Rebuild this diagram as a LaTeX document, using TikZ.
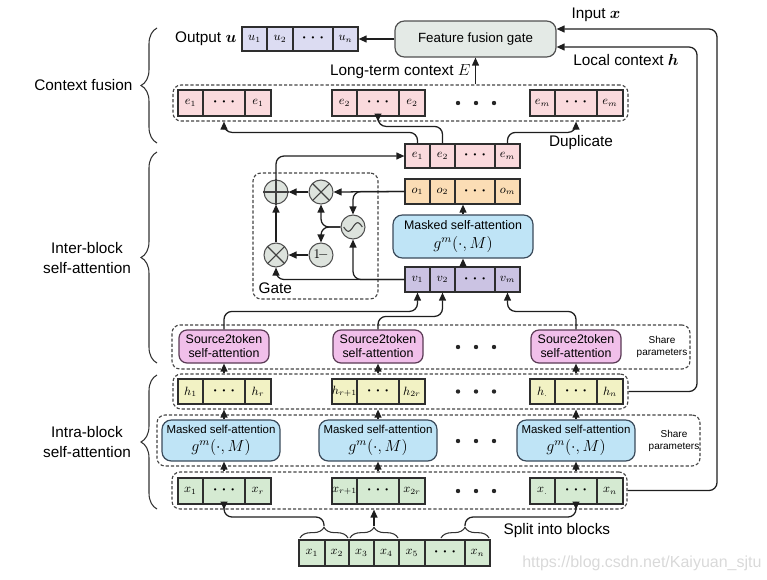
\documentclass[tikz,border=0pt]{standalone}
\usepackage{amsmath}
\usepackage{bm}
\usepackage{fontspec}
\setmainfont{Liberation Sans}
\usetikzlibrary{arrows.meta,decorations.pathreplacing,calc}

\definecolor{ucol}{HTML}{DCDCF2}
\definecolor{ecol}{HTML}{FADADD}
\definecolor{ocol}{HTML}{FBDDB5}
\definecolor{vcol}{HTML}{CBC3E3}
\definecolor{hcol}{HTML}{F2F2C4}
\definecolor{xcol}{HTML}{D5EAD2}
\definecolor{msafill}{HTML}{BFE4F6}
\definecolor{msabd}{HTML}{3A4A5A}
\definecolor{s2tfill}{HTML}{F1BFEA}
\definecolor{s2tbd}{HTML}{5A3A55}
\definecolor{gatefill}{HTML}{E4EAE6}
\definecolor{gatebd}{HTML}{505050}
\definecolor{circfill}{HTML}{DDE3DD}
\definecolor{circbd}{HTML}{505050}
\definecolor{cellbd}{HTML}{2E2E2E}
\definecolor{dashbd}{HTML}{444444}
\definecolor{arrc}{HTML}{1E1E1E}
\definecolor{wmark}{HTML}{D9D9D9}

\newcommand\RN[7]{\node[#6, minimum width={((#3)-(#2))*0.75pt}, minimum height={((#5)-(#4))*0.75pt}] (#1) at ({((#2)+(#3))/2},{((#4)+(#5))/2}) {#7};}
\newcommand\Grp[8]{%
 \RN{#11}{#2}{#2+25}{#3}{#4}{cellbox,fill=#5}{#6}%
 \RN{#12}{#2+25}{#2+67}{#3}{#4}{cellbox,fill=#5}{#7}%
 \RN{#13}{#2+67}{#2+93}{#3}{#4}{cellbox,fill=#5}{#8}}
\newcommand\dd{{\fontsize{6}{6}\selectfont\textbullet\hspace{4.5pt}\textbullet\hspace{4.5pt}\textbullet}}

\begin{document}
\begin{tikzpicture}[x=0.75pt,y=-0.75pt,
  cellbox/.style={draw=cellbd, line width=0.9pt, inner sep=0pt, font=\fontsize{9}{10}\selectfont},
  dashbox/.style={draw=dashbd, line width=0.85pt, dash pattern=on 2.4pt off 1.5pt, rounded corners=6pt, inner sep=0pt},
  arr/.style={draw=arrc, line width=0.95pt, -{Triangle[length=6pt,width=5.2pt]}},
  conn/.style={arr, rounded corners=6pt},
  lbl/.style={font=\fontsize{11.5}{15}\selectfont, inner sep=1pt},
  msa/.style={draw=msabd, fill=msafill, line width=0.9pt, rounded corners=7pt, inner sep=0pt, align=center, font=\fontsize{9.3}{11}\selectfont},
  msasm/.style={msa, font=\fontsize{8.6}{10.5}\selectfont},
  s2tbox/.style={draw=s2tbd, fill=s2tfill, line width=0.9pt, rounded corners=6pt, inner sep=0pt, align=center, font=\fontsize{9.3}{10.5}\selectfont},
  gatebox/.style={draw=gatebd, fill=gatefill, line width=0.9pt, rounded corners=7pt, inner sep=0pt, font=\fontsize{10}{12}\selectfont},
  circ/.style={circle, draw=circbd, fill=circfill, line width=0.8pt, minimum size=24*0.75pt, inner sep=0pt},
  glyph/.style={draw=black!75, line width=0.8pt},
  gdot/.style={circle, fill=black!85, minimum size=3.3pt, inner sep=0pt},
  bigbrace/.style={draw=black!80, line width=0.8pt, decorate, decoration={brace, amplitude=12pt}},
  smallbrace/.style={draw=black!80, line width=0.8pt, decorate, decoration={brace, amplitude=8pt}},
  sharelbl/.style={font=\fontsize{7.5}{9}\selectfont, align=center, inner sep=0pt}]
\useasboundingbox (0,0) rectangle (767,579);

% ---------- left braces and labels
\draw[bigbrace] (157,143) -- (157,28);
\node[lbl, anchor=east] (cflbl) at (134,85) {Context fusion};
\draw[bigbrace] (157,363) -- (157,152);
\node[lbl, align=center] (interlbl) at (87,258) {Inter-block\\self-attention};
\draw[bigbrace] (157,509) -- (157,375);
\node[lbl, align=center] (intralbl) at (87,442) {Intra-block\\self-attention};

% ---------- top
\node[lbl, anchor=east] (outlbl) at (238,39) {Output $\bm{u}$};
\RN{u1}{242}{267}{27}{51}{cellbox,fill=ucol}{$u_1$}
\RN{u2}{267}{293}{27}{51}{cellbox,fill=ucol}{$u_2$}
\RN{ud}{293}{333}{27}{51}{cellbox,fill=ucol}{\dd}
\RN{un}{333}{358}{27}{51}{cellbox,fill=ucol}{$u_n$}
\RN{ffg}{395}{556}{21}{57}{gatebox}{Feature fusion gate}
\draw[arr] (ffg.west) -- (un.east);
\node[lbl] (inlbl) at (596,15) {Input $\bm{x}$};
\node[lbl] (lclbl) at (626,60) {Local context $\bm{h}$};
\node[lbl, anchor=east] (ltlbl) at (472,72) {Long-term context $E$};

% ---------- context fusion row
\RN{edash}{173}{628}{85}{121}{dashbox}{}
\Grp{eA}{178}{90}{116}{ecol}{$e_1$}{\dd}{$e_1$}
\Grp{eB}{332}{90}{116}{ecol}{$e_2$}{\dd}{$e_2$}
\Grp{eC}{530}{90}{116}{ecol}{$e_m$}{\dd}{$e_m$}
\node[gdot] (edt1) at (458,103) {};
\node[gdot] (edt2) at (476,103) {};
\node[gdot] (edt3) at (494,103) {};
\draw[arr] (ffg.south |- edash.north) -- (ffg.south);
\node[lbl] (duplbl) at (581,143) {Duplicate};

% ---------- inter-block column
\RN{es1}{405}{430}{144}{168}{cellbox,fill=ecol}{$e_1$}
\RN{es2}{430}{455}{144}{168}{cellbox,fill=ecol}{$e_2$}
\RN{esd}{455}{495}{144}{168}{cellbox,fill=ecol}{\dd}
\RN{esm}{495}{520}{144}{168}{cellbox,fill=ecol}{$e_m$}
\RN{o1}{405}{430}{179}{204}{cellbox,fill=ocol}{$o_1$}
\RN{o2}{430}{455}{179}{204}{cellbox,fill=ocol}{$o_2$}
\RN{od}{455}{495}{179}{204}{cellbox,fill=ocol}{\dd}
\RN{om}{495}{520}{179}{204}{cellbox,fill=ocol}{$o_m$}
\RN{msai}{393}{533}{215}{258}{msa}{Masked self-attention\\[3pt]{\fontsize{12}{12}\selectfont$g^m(\cdot,M)$}}
\RN{v1}{405}{430}{267}{292}{cellbox,fill=vcol}{$v_1$}
\RN{v2}{430}{455}{267}{292}{cellbox,fill=vcol}{$v_2$}
\RN{vd}{455}{495}{267}{292}{cellbox,fill=vcol}{\dd}
\RN{vm}{495}{520}{267}{292}{cellbox,fill=vcol}{$v_m$}
\draw[arr] (msai.north) -- (msai.north |- od.south);
\draw[arr] (msai.south |- vd.north) -- (msai.south);

\draw[conn] (es1.north) -- ++(0,-11) -| (eA2 |- edash.south);
\draw[conn] (es2.north) -- ++(0,-17) -| (eB2 |- edash.south);
\draw[conn] (esm.north) -- ++(0,-11) -| (eC2 |- edash.south);

% ---------- gate
\RN{gatedash}{253}{378}{173}{299}{dashbox}{}
\node[lbl, anchor=west] (gatelbl) at (257,288) {Gate};
\node[circ] (P) at (276,192) {};
\node[circ] (T1) at (321,192) {};
\node[circ] (S) at (353,227) {};
\node[circ] (T2) at (276,255) {};
\node[circ, font=\fontsize{10}{10}\selectfont] (OM) at (321,255) {$1\!-$};
\draw[glyph] (P.north) -- (P.south) (P.west) -- (P.east);
\draw[glyph] ([shift={(45:9pt)}]T1.center) -- ([shift={(225:9pt)}]T1.center)
             ([shift={(135:9pt)}]T1.center) -- ([shift={(315:9pt)}]T1.center);
\draw[glyph] ([shift={(45:9pt)}]T2.center) -- ([shift={(225:9pt)}]T2.center)
             ([shift={(135:9pt)}]T2.center) -- ([shift={(315:9pt)}]T2.center);
\begin{scope}[shift={(S.center)}, x=1pt, y=1pt]
  \draw[glyph, domain=-7:7, samples=40, smooth] plot (\x, {3.2*sin(\x*360/14)});
\end{scope}

\draw[conn] (P.north) |- (es1.west);
\draw[arr] (o1.west) -- (T1.east);
\draw[conn] (o1.west) -| (S.north);
\draw[arr] (T1.west) -- (P.east);
\draw[conn] (S.west) -| (T1.south);
\draw[conn] (S.west) -| (OM.north);
\draw[arr] (OM.west) -- (T2.east);
\draw[arr] (T2.north) -- (P.south);
\draw[conn] (v1.west) -| (T2.south);
\draw[conn] (v1.west) -| (S.south);

% ---------- source2token row
\RN{s2tdash}{172}{690}{325}{369}{dashbox}{}
\RN{s2t1}{179}{269}{330}{363}{s2tbox}{Source2token\\self-attention}
\RN{s2t2}{333}{423}{330}{363}{s2tbox}{Source2token\\self-attention}
\RN{s2t3}{531}{621}{330}{363}{s2tbox}{Source2token\\self-attention}
\node[gdot] (sdt1) at (458,347) {};
\node[gdot] (sdt2) at (476,347) {};
\node[gdot] (sdt3) at (494,347) {};
\node[sharelbl] (sp1) at (662,347) {Share\\parameters};
\draw[conn] (s2t1.north) -- ++(0,-18) -| (v1.south);
\draw[conn] (s2t2.north) -- ++(0,-13) -| (v2.south);
\draw[conn] (s2t3.north) -- ++(0,-18) -| (vm.south);

% ---------- h row
\RN{hdash}{173}{628}{374}{409}{dashbox}{}
\Grp{hA}{178}{379}{404}{hcol}{$h_1$}{\dd}{$h_r$}
\Grp{hB}{332}{379}{404}{hcol}{$h_{r+1}$}{\dd}{$h_{2r}$}
\Grp{hC}{530}{379}{404}{hcol}{$h_{.}$}{\dd}{$h_n$}
\node[gdot] (hdt1) at (458,391.5) {};
\node[gdot] (hdt2) at (476,391.5) {};
\node[gdot] (hdt3) at (494,391.5) {};

% ---------- masked self-attention (intra) row
\RN{mdash}{157}{700}{415}{466}{dashbox}{}
\RN{m1}{162}{280}{420}{461}{msasm}{Masked self-attention\\[3pt]{\fontsize{11.5}{12}\selectfont$g^m(\cdot,M)$}}
\RN{m2}{319}{437}{420}{461}{msasm}{Masked self-attention\\[3pt]{\fontsize{11.5}{12}\selectfont$g^m(\cdot,M)$}}
\RN{m3}{517}{635}{420}{461}{msasm}{Masked self-attention\\[3pt]{\fontsize{11.5}{12}\selectfont$g^m(\cdot,M)$}}
\node[gdot] (mdt1) at (458,441) {};
\node[gdot] (mdt2) at (476,441) {};
\node[gdot] (mdt3) at (494,441) {};
\node[sharelbl] (sp2) at (674,441) {Share\\parameters};

% ---------- x row
\RN{xdash}{172}{627}{472}{509}{dashbox}{}
\Grp{xA}{178}{478}{504}{xcol}{$x_1$}{\dd}{$x_r$}
\Grp{xB}{332}{478}{504}{xcol}{$x_{r+1}$}{\dd}{$x_{2r}$}
\Grp{xC}{530}{478}{504}{xcol}{$x_{.}$}{\dd}{$x_n$}
\node[gdot] (xdt1) at (458,491) {};
\node[gdot] (xdt2) at (476,491) {};
\node[gdot] (xdt3) at (494,491) {};

% vertical arrows between rows
\foreach \gr/\mi in {A/1,B/2,C/3}{
  \draw[arr] (x\gr2 |- xdash.north) -- (x\gr2 |- m\mi.south);
  \draw[arr] (x\gr2 |- m\mi.north) -- (x\gr2 |- hdash.south);
  \draw[arr] (h\gr2 |- hdash.north) -- (h\gr2 |- s2t\mi.south);
}

% ---------- right side feedback lines
\coordinate (inR) at (717,29);
\coordinate (lcR) at (697,47);
\draw[conn] (xdash.east) -| (inR) -- (inR -| ffg.east);
\draw[conn] (hdash.east) -| (lcR) -- (lcR -| ffg.east);

% ---------- bottom input sequence
\RN{bx1}{299}{325}{540}{566}{cellbox,fill=xcol}{$x_1$}
\RN{bx2}{325}{349}{540}{566}{cellbox,fill=xcol}{$x_2$}
\RN{bx3}{349}{374}{540}{566}{cellbox,fill=xcol}{$x_3$}
\RN{bx4}{374}{399}{540}{566}{cellbox,fill=xcol}{$x_4$}
\RN{bx5}{399}{425}{540}{566}{cellbox,fill=xcol}{$x_5$}
\RN{bxd}{425}{465}{540}{566}{cellbox,fill=xcol}{\dd}
\RN{bxn}{465}{490}{540}{566}{cellbox,fill=xcol}{$x_n$}
\draw[smallbrace] (300,538) -- (348,538);
\draw[smallbrace] (350,538) -- (398,538);
\draw[smallbrace] (441,538) -- (489,538);
\coordinate (bt1) at (324,526);
\coordinate (bt2) at (374,526);
\coordinate (bt3) at (465,526);
\draw[conn] (bt1) -- ++(0,-9) -| (xA2 |- xdash.south);
\draw[arr] (bt2) -- (bt2 |- xdash.south);
\draw[conn] (bt3) -- ++(0,-9) -| (xC2 |- xdash.south);
\node[lbl, anchor=west] (split) at (502,531) {Split into blocks};
\node[font=\fontsize{12}{12}\selectfont, text=wmark, anchor=west, inner sep=0pt] (wm) at (522,563) {https://blog.csdn.net/Kaiyuan\_sjtu};
\end{tikzpicture}
\end{document}
